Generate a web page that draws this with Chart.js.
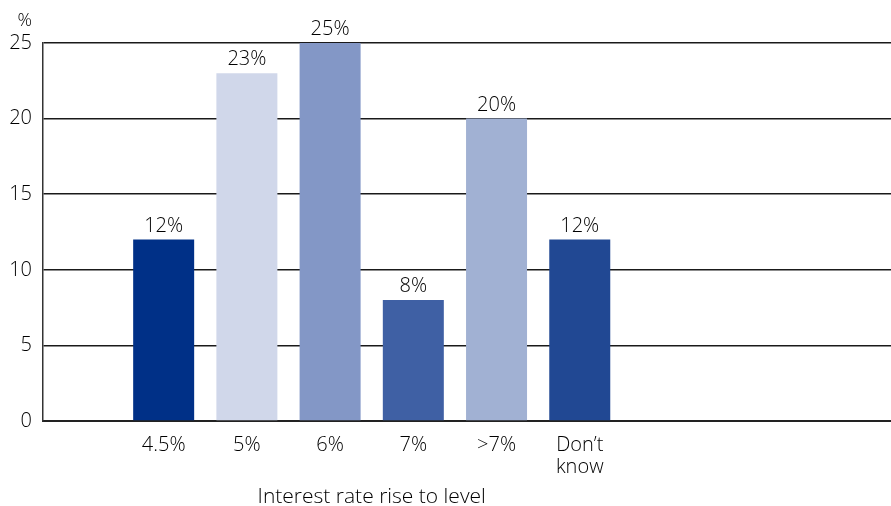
<!DOCTYPE html>
<html>
<head>
<meta charset="utf-8">
<script src="https://cdn.jsdelivr.net/npm/chart.js@4.4.1/dist/chart.umd.min.js"></script>
<style>
  html, body { margin: 0; padding: 0; background: #fff; }
</style>
</head>
<body>
<canvas id="chart" width="891" height="506"></canvas>
<script>
// data
var CATEGORIES = ['4.5%', '5%', '6%', '7%', '>7%', ['Don\u2019t', 'know']];
var VALUES = [12, 23, 25, 8, 20, 12];
var BAR_COLORS = ['#003087', '#d0d7ea', '#8397c6', '#3f60a4', '#a1b1d3', '#214893'];
var Y_TICKS = [0, 5, 10, 15, 20, 25];
var X_TITLE = 'Interest rate rise to level';
var Y_UNIT = '%';

var FONT = '"Open Sans", "Noto Sans", sans-serif';
var WEIGHT = 300;
var TEXT = '#000';

// value labels, unit and axis title
var annotations = {
  id: 'annotations',
  afterDatasetsDraw: function(chart) {
    var ctx = chart.ctx;
    var meta = chart.getDatasetMeta(0);
    var x = chart.scales.x;
    ctx.save();
    ctx.font = WEIGHT + ' 20px ' + FONT;
    ctx.fillStyle = TEXT;
    ctx.textAlign = 'center';
    ctx.textBaseline = 'alphabetic';
    meta.data.forEach(function(bar, i) {
      ctx.fillText(VALUES[i] + '%', bar.x, bar.y - 8);
    });
    // title sits under the bars, not under the whole axis
    var mid = (x.getPixelForValue(0) + x.getPixelForValue(CATEGORIES.length - 1)) / 2;
    ctx.font = WEIGHT + ' 21px ' + FONT;
    ctx.fillText(X_TITLE, mid, chart.chartArea.bottom + 82);
    ctx.font = WEIGHT + ' 18px ' + FONT;
    ctx.textAlign = 'right';
    ctx.fillText(Y_UNIT, 32, 26);
    ctx.restore();
  }
};

new Chart(document.getElementById('chart'), {
  type: 'bar',
  data: {
    datasets: [{
      data: VALUES.map(function(v, i) { return { x: i, y: v }; }),
      backgroundColor: BAR_COLORS,
      borderWidth: 0,
      barPercentage: 0.733,
      categoryPercentage: 1
    }]
  },
  options: {
    responsive: false,
    animation: false,
    layout: { padding: { top: 43, left: 0, right: 0, bottom: 0 } },
    plugins: {
      legend: { display: false },
      tooltip: { enabled: false }
    },
    scales: {
      x: {
        type: 'linear',
        offset: false,
        min: -1.45,
        max: 8.74,
        afterFit: function(scale) { scale.height = 85; },
        afterBuildTicks: function(scale) {
          scale.ticks = CATEGORIES.map(function(c, i) { return { value: i }; });
        },
        grid: { display: false },
        border: { display: true, color: '#222', width: 2 },
        ticks: {
          padding: 5,
          maxRotation: 0,
          autoSkip: false,
          color: TEXT,
          font: { family: FONT, weight: WEIGHT, size: 20, lineHeight: 1.1 },
          callback: function(value) { return CATEGORIES[value]; }
        }
      },
      y: {
        min: 0,
        max: 25,
        afterFit: function(scale) { scale.width = 43; },
        afterBuildTicks: function(scale) {
          scale.ticks = Y_TICKS.map(function(v) { return { value: v }; });
        },
        grid: { color: '#1a1a1a', lineWidth: 1.5, drawTicks: false },
        border: { display: true, color: '#333', width: 1.5 },
        ticks: {
          padding: 11,
          color: TEXT,
          font: { family: FONT, weight: WEIGHT, size: 20 }
        }
      }
    }
  },
  plugins: [annotations]
});
</script>
</body>
</html>
